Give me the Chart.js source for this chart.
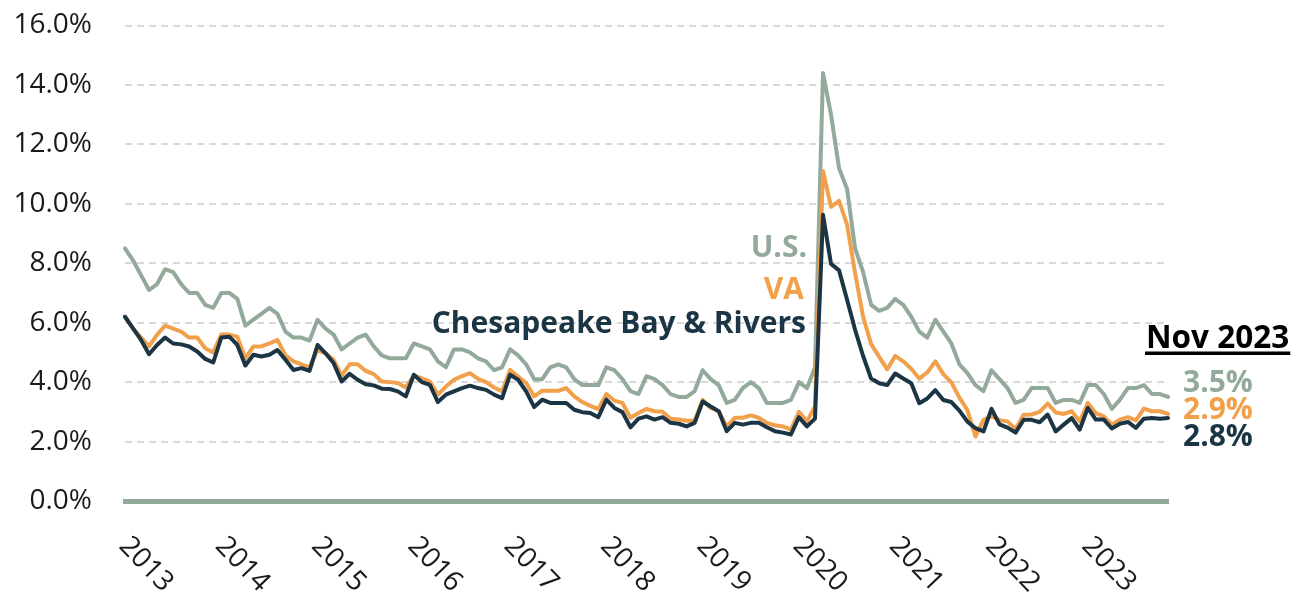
<!DOCTYPE html>
<html>
<head>
<meta charset="utf-8">
<script src="https://cdn.jsdelivr.net/npm/chart.js@4.4.0/dist/chart.umd.min.js"></script>
<style>
html,body{margin:0;padding:0;background:#ffffff;}
#wrap{position:relative;width:1304px;height:592px;}
</style>
</head>
<body>
<div id="wrap"><canvas id="c" width="1304" height="592"></canvas></div>
<script>
// ---- data ----
const years = ['2013','2014','2015','2016','2017','2018','2019','2020','2021','2022','2023'];
const monthNames = ['Jan','Feb','Mar','Apr','May','Jun','Jul','Aug','Sep','Oct','Nov','Dec'];
const lastLabel = 'Nov 2023';

const usRate = [
  8.5, 8.1, 7.6, 7.1, 7.3, 7.8, 7.7, 7.3, 7.0, 7.0, 6.6, 6.5,
  7.0, 7.0, 6.8, 5.9, 6.1, 6.3, 6.5, 6.3, 5.7, 5.5, 5.5, 5.4,
  6.1, 5.8, 5.6, 5.1, 5.3, 5.5, 5.6, 5.2, 4.9, 4.8, 4.8, 4.8,
  5.3, 5.2, 5.1, 4.7, 4.5, 5.1, 5.1, 5.0, 4.8, 4.7, 4.4, 4.5,
  5.1, 4.9, 4.6, 4.1, 4.1, 4.5, 4.6, 4.5, 4.1, 3.9, 3.9, 3.9,
  4.5, 4.4, 4.1, 3.7, 3.6, 4.2, 4.1, 3.9, 3.6, 3.5, 3.5, 3.7,
  4.4, 4.1, 3.9, 3.3, 3.4, 3.8, 4.0, 3.8, 3.3, 3.3, 3.3, 3.4,
  4.0, 3.8, 4.5, 14.4, 13.0, 11.2, 10.5, 8.5, 7.7, 6.6, 6.4, 6.5,
  6.8, 6.6, 6.2, 5.7, 5.5, 6.1, 5.7, 5.3, 4.6, 4.3, 3.9, 3.7,
  4.4, 4.1, 3.8, 3.3, 3.4, 3.8, 3.8, 3.8, 3.3, 3.4, 3.4, 3.3,
  3.9, 3.9, 3.6, 3.1, 3.4, 3.8, 3.8, 3.9, 3.6, 3.6, 3.5
];
const vaRate = [
  6.2, 5.8, 5.5, 5.2, 5.6, 5.9, 5.8, 5.7, 5.5, 5.5, 5.14, 5.0,
  5.6, 5.6, 5.53, 4.8, 5.2, 5.2, 5.3, 5.42, 4.9, 4.7, 4.6, 4.5,
  5.08, 4.97, 4.75, 4.22, 4.6, 4.6, 4.38, 4.27, 4.02, 4.0, 3.97, 3.82,
  4.22, 4.13, 4.02, 3.58, 3.85, 4.08, 4.2, 4.3, 4.11, 4.0, 3.82, 3.69,
  4.41, 4.19, 3.97, 3.52, 3.71, 3.71, 3.71, 3.8, 3.52, 3.33, 3.2, 3.1,
  3.6, 3.38, 3.3, 2.8, 2.96, 3.1, 3.02, 3.0, 2.77, 2.74, 2.7, 2.7,
  3.4, 3.13, 3.02, 2.5, 2.8, 2.8, 2.88, 2.8, 2.63, 2.55, 2.51, 2.4,
  3.0, 2.68, 3.18, 11.1, 9.9, 10.1, 9.3, 7.67, 6.2, 5.28, 4.85, 4.43,
  4.88, 4.7, 4.45, 4.12, 4.33, 4.7, 4.27, 3.99, 3.48, 3.06, 2.17, 2.73,
  2.85, 2.72, 2.68, 2.42, 2.9, 2.91, 3.0, 3.28, 2.98, 2.93, 3.02, 2.68,
  3.3, 2.96, 2.85, 2.57, 2.74, 2.82, 2.71, 3.11, 3.02, 3.02, 2.93
];
const cbrRate = [
  6.2, 5.81, 5.42, 4.94, 5.25, 5.5, 5.3, 5.27, 5.2, 5.03, 4.78, 4.66,
  5.5, 5.53, 5.25, 4.56, 4.92, 4.86, 4.92, 5.08, 4.75, 4.41, 4.47, 4.38,
  5.25, 4.97, 4.64, 4.02, 4.28, 4.08, 3.93, 3.89, 3.78, 3.77, 3.69, 3.52,
  4.25, 4.0, 3.91, 3.33, 3.58, 3.69, 3.8, 3.88, 3.8, 3.74, 3.58, 3.46,
  4.25, 4.08, 3.69, 3.16, 3.41, 3.3, 3.3, 3.3, 3.07, 2.99, 2.96, 2.82,
  3.41, 3.13, 2.99, 2.48, 2.77, 2.85, 2.74, 2.82, 2.63, 2.6, 2.51, 2.63,
  3.35, 3.18, 3.02, 2.35, 2.63, 2.57, 2.63, 2.63, 2.48, 2.35, 2.3, 2.24,
  2.82, 2.51, 2.77, 9.63, 7.98, 7.76, 6.77, 5.76, 4.88, 4.12, 3.96, 3.9,
  4.29, 4.12, 3.96, 3.29, 3.45, 3.73, 3.4, 3.33, 3.04, 2.67, 2.45, 2.34,
  3.1, 2.58, 2.47, 2.3, 2.73, 2.73, 2.65, 2.91, 2.34, 2.57, 2.79, 2.4,
  3.13, 2.74, 2.74, 2.44, 2.6, 2.66, 2.46, 2.77, 2.79, 2.77, 2.79
];
const seriesNames = ['Chesapeake Bay & Rivers', 'VA', 'U.S.'];
const latestLabels = ['3.5%', '2.9%', '2.8%'];
const yTickValues = [0, 2, 4, 6, 8, 10, 12, 14, 16];

// ---- styles ----
const US_C = '#93aa9b';
const VA_C = '#f1a04c';
const CB_C = '#1c3544';
const TXT_C = '#1a1a1a';

const labels = [];
years.forEach(y => monthNames.forEach(m => { if (labels.length < usRate.length) labels.push(m + ' ' + y); }));

const annotate = {
  id: 'annotate',
  afterDraw(chart) {
    const ctx = chart.ctx;
    const xs = chart.scales.x;
    ctx.save();
    // rotated year labels
    ctx.font = '28px "Open Sans"';
    ctx.fillStyle = TXT_C;
    ctx.textAlign = 'left';
    ctx.textBaseline = 'alphabetic';
    years.forEach((yr, k) => {
      const px = xs.getPixelForValue(k * 12);
      ctx.save();
      ctx.translate(px - 7, 547);
      ctx.rotate(46 * Math.PI / 180);
      ctx.fillText(yr, 0, 0);
      ctx.restore();
    });
    // series labels
    ctx.font = 'bold 30px "Open Sans"';
    ctx.textAlign = 'right';
    ctx.fillStyle = US_C; ctx.fillText(seriesNames[2], 807, 257);
    ctx.fillStyle = VA_C; ctx.fillText(seriesNames[1], 804, 299);
    ctx.fillStyle = CB_C; ctx.fillText(seriesNames[0], 806, 333);
    // latest values
    ctx.textAlign = 'left';
    ctx.fillStyle = '#000000';
    ctx.font = 'bold 31.5px "Open Sans"';
    ctx.fillText(lastLabel, 1146, 348);
    const w = ctx.measureText(lastLabel).width;
    ctx.fillRect(1145, 351.5, w + 2, 3.5);
    ctx.font = 'bold 30px "Open Sans"';
    ctx.fillStyle = US_C; ctx.fillText(latestLabels[0], 1183, 391.5);
    ctx.fillStyle = VA_C; ctx.fillText(latestLabels[1], 1183, 419);
    ctx.fillStyle = CB_C; ctx.fillText(latestLabels[2], 1183, 445.5);
    ctx.restore();
  }
};

const lineDs = (label, data, color) => ({
  label, data, borderColor: color, backgroundColor: color,
  borderWidth: 4, pointRadius: 0, tension: 0, fill: false,
  borderJoinStyle: 'round', borderCapStyle: 'round'
});

new Chart(document.getElementById('c').getContext('2d'), {
  type: 'line',
  data: {
    labels: labels,
    datasets: [
      lineDs(seriesNames[0], cbrRate, CB_C),
      lineDs(seriesNames[1], vaRate, VA_C),
      lineDs(seriesNames[2], usRate, US_C)
    ]
  },
  options: {
    responsive: false,
    animation: false,
    devicePixelRatio: 1,
    layout: { padding: { left: 0, right: 136, top: 25.5, bottom: 91 } },
    plugins: { legend: { display: false }, tooltip: { enabled: false } },
    scales: {
      x: {
        type: 'category',
        offset: false,
        grid: { display: false, drawTicks: false },
        border: { display: true, color: US_C, width: 5 },
        ticks: { display: false }
      },
      y: {
        min: 0, max: 16,
        afterBuildTicks(scale) { scale.ticks = yTickValues.map(v => ({ value: v })); },
        afterFit(scale) { scale.width = 125; },
        ticks: {
          callback: v => Number(v).toFixed(1) + '%',
          font: { family: 'Open Sans', size: 28 },
          color: TXT_C,
          padding: 0
        },
        grid: { color: '#d9d9d9', lineWidth: 2, drawTicks: true, tickLength: 33, tickWidth: 0, tickColor: 'rgba(0,0,0,0)' },
        border: { display: false, dash: [7, 5] }
      }
    }
  },
  plugins: [annotate]
});
</script>
</body>
</html>
